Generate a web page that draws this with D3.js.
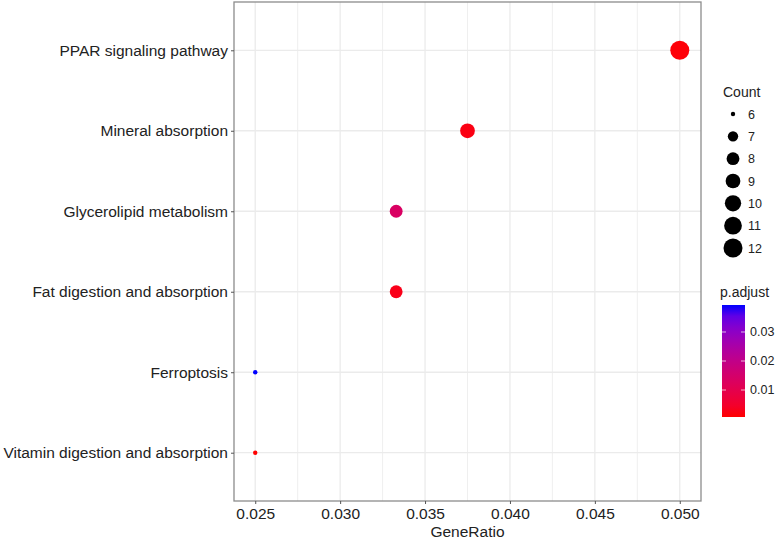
<!DOCTYPE html>
<html>
<head>
<meta charset="utf-8">
<script src="https://cdn.jsdelivr.net/npm/d3@7"></script>
<style>
  body { margin: 0; background: #fff; }
  text { font-family: "Liberation Sans", Arial, sans-serif; }
</style>
</head>
<body>
<svg id="vis" width="776" height="540"></svg>
<script>
// pathway terms, top to bottom
var terms = ["PPAR signaling pathway", "Mineral absorption", "Glycerolipid metabolism",
  "Fat digestion and absorption", "Ferroptosis", "Vitamin digestion and absorption"];
var geneRatio = [0.050, 0.0375, 0.0333, 0.0333, 0.025, 0.025];
var counts = [12, 9, 8, 8, 6, 6];
var pAdjust = [0.0012, 0.0020, 0.0135, 0.0025, 0.0393, 0.0007];
var xTicks = [0.025, 0.030, 0.035, 0.040, 0.045, 0.050];
var countLegend = [6, 7, 8, 9, 10, 11, 12];
var pTicks = [0.01, 0.02, 0.03];

var panel = {left: 234, right: 701, top: 2, bottom: 501};
var svg = d3.select("#vis");

var x = d3.scaleLinear().domain([0.02375, 0.05125]).range([panel.left, panel.right]);
var y = d3.scalePoint().domain(terms).range([panel.top, panel.bottom]).padding(0.6);

// ggplot-like area scale for count
var sizeScale = d3.scaleLinear().domain([0, 1]).range([2.2, 9.5]);
function radius(c) { return sizeScale(Math.sqrt((c - 6) / 6)); }

var color = d3.scaleLinear().domain([0.0007, 0.0393]).range(["#ff0000", "#0000ff"])
  .interpolate(d3.interpolateLab);

// grid
var g = svg.append("g");
var minor = d3.range(0, xTicks.length - 1).map(function(i) { return (xTicks[i] + xTicks[i + 1]) / 2; });
g.selectAll(".minor").data(minor).enter().append("line")
  .attr("x1", function(d) { return x(d); }).attr("x2", function(d) { return x(d); })
  .attr("y1", panel.top).attr("y2", panel.bottom)
  .style("stroke", "#ebebeb").style("stroke-width", 0.8);
g.selectAll(".majorx").data(xTicks).enter().append("line")
  .attr("x1", function(d) { return x(d); }).attr("x2", function(d) { return x(d); })
  .attr("y1", panel.top).attr("y2", panel.bottom)
  .style("stroke", "#ebebeb").style("stroke-width", 1.3);
g.selectAll(".majory").data(terms).enter().append("line")
  .attr("x1", panel.left).attr("x2", panel.right)
  .attr("y1", function(d) { return y(d); }).attr("y2", function(d) { return y(d); })
  .style("stroke", "#ebebeb").style("stroke-width", 1.3);

// points
var pts = terms.map(function(t, i) {
  return {term: t, ratio: geneRatio[i], count: counts[i], p: pAdjust[i]};
});
svg.selectAll(".pt").data(pts).enter().append("circle")
  .attr("cx", function(d) { return x(d.ratio); })
  .attr("cy", function(d) { return y(d.term); })
  .attr("r", function(d) { return radius(d.count); })
  .style("fill", function(d) { return color(d.p); });

// panel border
svg.append("rect")
  .attr("x", panel.left).attr("y", panel.top)
  .attr("width", panel.right - panel.left).attr("height", panel.bottom - panel.top)
  .style("fill", "none").style("stroke", "#8c8c8c").style("stroke-width", 1.3);

// axes
var xAxis = svg.append("g").attr("transform", "translate(0," + panel.bottom + ")")
  .call(d3.axisBottom(x).tickValues(xTicks).tickFormat(d3.format(".3f")).tickSizeOuter(0).tickSize(3).tickPadding(4));
var yAxis = svg.append("g").attr("transform", "translate(" + panel.left + ",0)")
  .call(d3.axisLeft(y).tickSizeOuter(0).tickSize(3).tickPadding(3));
[xAxis, yAxis].forEach(function(a) {
  a.select(".domain").remove();
  a.selectAll(".tick line").style("stroke", "#555");
  a.selectAll(".tick text").style("fill", "#222").style("font-size", "15.5px")
    .style("font-family", "'Liberation Sans', Arial, sans-serif");
});

svg.append("text").attr("x", (panel.left + panel.right) / 2).attr("y", 537)
  .attr("text-anchor", "middle").style("font-size", "15.5px").style("fill", "#222")
  .text("GeneRatio");

// size legend
var lg = svg.append("g");
lg.append("text").attr("x", 723).attr("y", 97).style("font-size", "14px").style("fill", "#222").text("Count");
var ly = d3.scalePoint().domain(countLegend).range([114, 248]);
lg.selectAll(".lc").data(countLegend).enter().append("circle")
  .attr("cx", 733).attr("cy", function(d) { return ly(d); })
  .attr("r", function(d) { return radius(d); }).style("fill", "#000");
lg.selectAll(".lt").data(countLegend).enter().append("text")
  .attr("x", 748).attr("y", function(d) { return ly(d) + 4.5; })
  .style("font-size", "12.5px").style("fill", "#222").text(function(d) { return d; });

// colour bar legend
var cb = {x: 722, w: 23, top: 305, bottom: 417};
lg.append("text").attr("x", 720).attr("y", 297).style("font-size", "14px").style("fill", "#222").text("p.adjust");
var defs = svg.append("defs");
var grad = defs.append("linearGradient").attr("id", "pgrad")
  .attr("x1", 0).attr("x2", 0).attr("y1", 1).attr("y2", 0);
d3.range(0, 1.0001, 0.1).forEach(function(t) {
  var v = color.domain()[0] + t * (color.domain()[1] - color.domain()[0]);
  grad.append("stop").attr("offset", t).attr("stop-color", color(v));
});
lg.append("rect").attr("x", cb.x).attr("y", cb.top).attr("width", cb.w)
  .attr("height", cb.bottom - cb.top).style("fill", "url(#pgrad)");
var cy = d3.scaleLinear().domain(color.domain()).range([cb.bottom, cb.top]);
pTicks.forEach(function(v) {
  lg.append("line").attr("x1", cb.x).attr("x2", cb.x + 4).attr("y1", cy(v)).attr("y2", cy(v))
    .style("stroke", "#fff").style("stroke-opacity", 0.7);
  lg.append("line").attr("x1", cb.x + cb.w - 4).attr("x2", cb.x + cb.w).attr("y1", cy(v)).attr("y2", cy(v))
    .style("stroke", "#fff").style("stroke-opacity", 0.7);
  lg.append("text").attr("x", 750).attr("y", cy(v) + 4).style("font-size", "12.5px").style("fill", "#222")
    .text(d3.format(".2f")(v));
});
</script>
</body>
</html>
